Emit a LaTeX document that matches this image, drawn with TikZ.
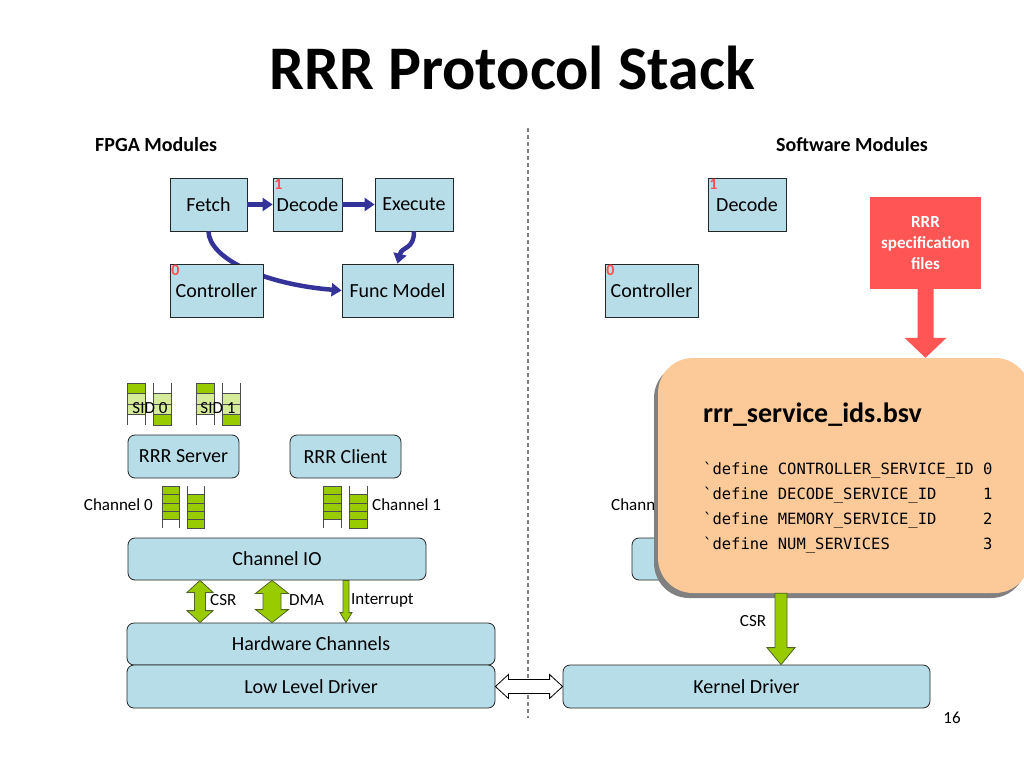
\documentclass[tikz,border=0pt]{standalone}
\usepackage{fontspec}
\setmainfont{Carlito}
\setmonofont{DejaVu Sans Mono}
\usetikzlibrary{positioning, arrows.meta, calc}

\definecolor{boxblue}{HTML}{B7DEE8}
\definecolor{lime}{HTML}{99CC00}
\definecolor{limedark}{HTML}{4F6228}
\definecolor{navy}{HTML}{333399}
\definecolor{peach}{HTML}{FCC998}
\definecolor{specred}{HTML}{FF5555}
\definecolor{numred}{HTML}{FF5050}

% fifo column: left x, top y, width, slot height, list of slots
\newcommand{\fifo}[5]{%
  \foreach \s [count=\i from 0] in {#5} {
    \path[slot \s] (#1,#2+\i*#4) rectangle ++(#3,#4);
    \draw[black!70] (#1,#2+\i*#4) -- ++(0,#4) (#1+#3,#2+\i*#4) -- ++(0,#4);
  }}

% fat vertical arrows: style, top, bottom, shaft half, head half, head length
\newcommand{\vdblarrow}[6]{%
  \path[#1] let \p1=(#2), \p2=(#3) in
    (\x1,\y1) -- (\x1+#5,\y1-#6) -- (\x1+#4,\y1-#6) -- (\x1+#4,\y2+#6) -- (\x1+#5,\y2+#6) -- (\x1,\y2)
    -- (\x1-#5,\y2+#6) -- (\x1-#4,\y2+#6) -- (\x1-#4,\y1-#6) -- (\x1-#5,\y1-#6) -- cycle;}
\newcommand{\vdownarrow}[6]{%
  \path[#1] let \p1=(#2), \p2=(#3) in
    (\x1-#4,\y1) -- (\x1+#4,\y1) -- (\x1+#4,\y2+#6) -- (\x1+#5,\y2+#6) -- (\x1,\y2)
    -- (\x1-#5,\y2+#6) -- (\x1-#4,\y2+#6) -- cycle;}

\tikzset{
  module/.style={draw=black!85, line width=0.8pt, fill=boxblue, inner sep=0pt, font=\fontsize{20}{24}\selectfont},
  layer/.style={module, rounded corners=7pt},
  label/.style={font=\fontsize{17}{20}\selectfont, inner sep=0pt},
  heading/.style={font=\fontsize{20}{24}\selectfont\bfseries, inner sep=0pt},
  srvid/.style={font=\fontsize{16}{18}\selectfont\bfseries, text=numred, inner sep=1.5pt},
  flow/.style={draw=navy, line width=4.5pt, -{Triangle[length=10pt,width=13pt]}},
  fatarrow/.style={draw=limedark, fill=lime, line width=0.8pt},
  slot full/.style={draw=black!70, fill=lime},
  slot light/.style={draw=black!70, fill=lime!40},
  slot empty/.style={},
  code/.style={font=\fontsize{15.5}{18}\ttfamily, inner sep=0pt, anchor=west},
}

\begin{document}
\begin{tikzpicture}[x=1pt, y=-1pt]
    \useasboundingbox[fill=white] (0,0) rectangle (1024,768);

    \node[font=\fontsize{62}{70}\selectfont\bfseries] (title) at (512,68) {RRR Protocol Stack};
    \node[heading, anchor=west] (fpga) at (95,145) {FPGA Modules};
    \node[heading, anchor=east] (sw) at (928,145) {Software Modules};

    \draw[gray, line width=1.5pt, dash pattern=on 4pt off 3pt] (528,128) -- (528,718);

    % FPGA modules
    \node[module, minimum width=77, minimum height=53] (fetch) at (208.5,204.5) {Fetch};
    \node[module, minimum width=69, minimum height=53] (decode) at (307.5,204.5) {Decode};
    \node[module, minimum width=78, minimum height=53] (execute) at (414,204.5) {Execute};
    \node[module, minimum width=111, minimum height=53] (func) at (397.5,290.5) {Func Model};
    \path[flow] (fetch.south) .. controls (209,258) and (262,284) .. (func.west);
    \node[module, minimum width=93, minimum height=53] (ctrl) at (216.5,290.5) {Controller};
    \node[srvid, anchor=north west] (id_dec) at (decode.north west) {1};
    \node[srvid, anchor=north west] (id_ctrl) at (ctrl.north west) {0};

    \path[flow] (fetch) -- (decode);
    \path[flow] (decode) -- (execute);
    \path[flow] (execute.south) .. controls (414,250) and (402,246) .. (func.north);

    % software modules
    \node[module, minimum width=78, minimum height=53] (sw_decode) at (747,204.5) {Decode};
    \node[module, minimum width=93, minimum height=53] (sw_ctrl) at (651.5,290.5) {Controller};
    \node[srvid, anchor=north west] (sw_id_dec) at (sw_decode.north west) {1};
    \node[srvid, anchor=north west] (sw_id_ctrl) at (sw_ctrl.north west) {0};

    % service fifos
    \fifo{127}{383}{18}{10.5}{full,light,light,empty}
    \fifo{153}{383}{18}{10.5}{empty,light,light,full}
    \fifo{196}{383}{18}{10.5}{full,light,light,empty}
    \fifo{222}{383}{18}{10.5}{empty,light,light,full}
    \node[label] (sid_0) at (150,408) {SID 0};
    \node[label] (sid_1) at (218,408) {SID 1};

    \node[layer, minimum width=111, minimum height=43] (server) at (183.5,456.5) {RRR Server};
    \node[layer, minimum width=111, minimum height=43] (client) at (345.5,456.5) {RRR Client};

    % channel fifos
    \fifo{162}{486}{17}{8.4}{full,full,full,full,empty}
    \fifo{187}{486}{17}{8.4}{empty,full,full,full,full}
    \fifo{323}{486}{18}{8.4}{full,full,full,full,empty}
    \fifo{349}{486}{18}{8.4}{empty,full,full,full,full}
    \node[label, anchor=east] (ch_0) at (153,505) {Channel 0};
    \node[label, anchor=west] (ch_1) at (372,505) {Channel 1};

    \node[layer, minimum width=298, minimum height=42] (chio) at (277,559) {Channel IO};
    \node[layer, minimum width=368, minimum height=42] (hwch) at (311,644) {Hardware Channels};
    \node[layer, minimum width=368, minimum height=43] (lld) at (311,686.5) {Low Level Driver};
    \node[layer, minimum width=367, minimum height=43] (kdrv) at (746.5,686.5) {Kernel Driver};

    \coordinate (csr) at (200,600);
    \coordinate (dma) at (272,600);
    \coordinate (irq) at (346,600);
    \vdblarrow{fatarrow}{chio.south -| csr}{hwch.north -| csr}{5.5pt}{13pt}{12pt}
    \vdblarrow{fatarrow}{chio.south -| dma}{hwch.north -| dma}{9pt}{16.5pt}{13pt}
    \vdownarrow{fatarrow}{chio.south -| irq}{hwch.north -| irq}{3pt}{6pt}{10pt}
    \node[label, anchor=west] (csr_l) at (210,600) {CSR};
    \node[label, anchor=west] (dma_l) at (289,600) {DMA};
    \node[label, anchor=west] (irq_l) at (351,600) {Interrupt};

    % link between the drivers
    \path[draw=black, fill=white, line width=0.8pt] let \p1=(lld.east), \p2=(kdrv.west) in
        (\x1,\y1) -- (\x1+13pt,\y1+12pt) -- (\x1+13pt,\y1+7pt) -- (\x2-13pt,\y1+7pt) -- (\x2-13pt,\y1+12pt)
        -- (\x2,\y1) -- (\x2-13pt,\y1-12pt) -- (\x2-13pt,\y1-7pt) -- (\x1+13pt,\y1-7pt) -- (\x1+13pt,\y1-12pt) -- cycle;

    % software stack, mostly hidden
    \node[label, anchor=west] (sw_ch_0) at (611,505) {Channel 0};
    \node[layer, minimum width=298, minimum height=42] (sw_chio) at (781,559) {};

    % generated file
    \fill[black!50, rounded corners=35pt] (654,363) rectangle (1026,598);
    \node[fill=peach, rounded corners=35pt, minimum width=372, minimum height=235, inner sep=0pt] (ids) at (844,475.5) {};
    \node[font=\fontsize{28}{32}\selectfont\bfseries, inner sep=0pt, anchor=west] (ids_name) at (703,415) {rrr\_service\_ids.bsv};
    \foreach \ln [count=\i] in {CONTROLLER\_SERVICE\_ID~0, DECODE\_SERVICE\_ID~~~~~1, MEMORY\_SERVICE\_ID~~~~~2, NUM\_SERVICES~~~~~~~~~~3}
        \node[code] (code_\i) at (703,445+25*\i) {\textasciigrave define~\ln};

    \coordinate (sw_csr) at (781,620);
    \vdownarrow{fatarrow}{ids.south -| sw_csr}{kdrv.north -| sw_csr}{6pt}{14pt}{17pt}
    \node[label] (sw_csr_l) at (753,621) {CSR};

    % spec files
    \node[fill=specred, minimum width=111, minimum height=92, inner sep=0pt, text=white, align=center,
        font=\fontsize{17}{21}\selectfont\bfseries] (spec) at (925.5,243) {RRR\\specification\\files};
    \vdownarrow{fill=specred}{spec.south}{ids.north -| spec.south}{8pt}{21pt}{20pt}

    \node[label] (page) at (952,718) {16};
\end{tikzpicture}
\end{document}
